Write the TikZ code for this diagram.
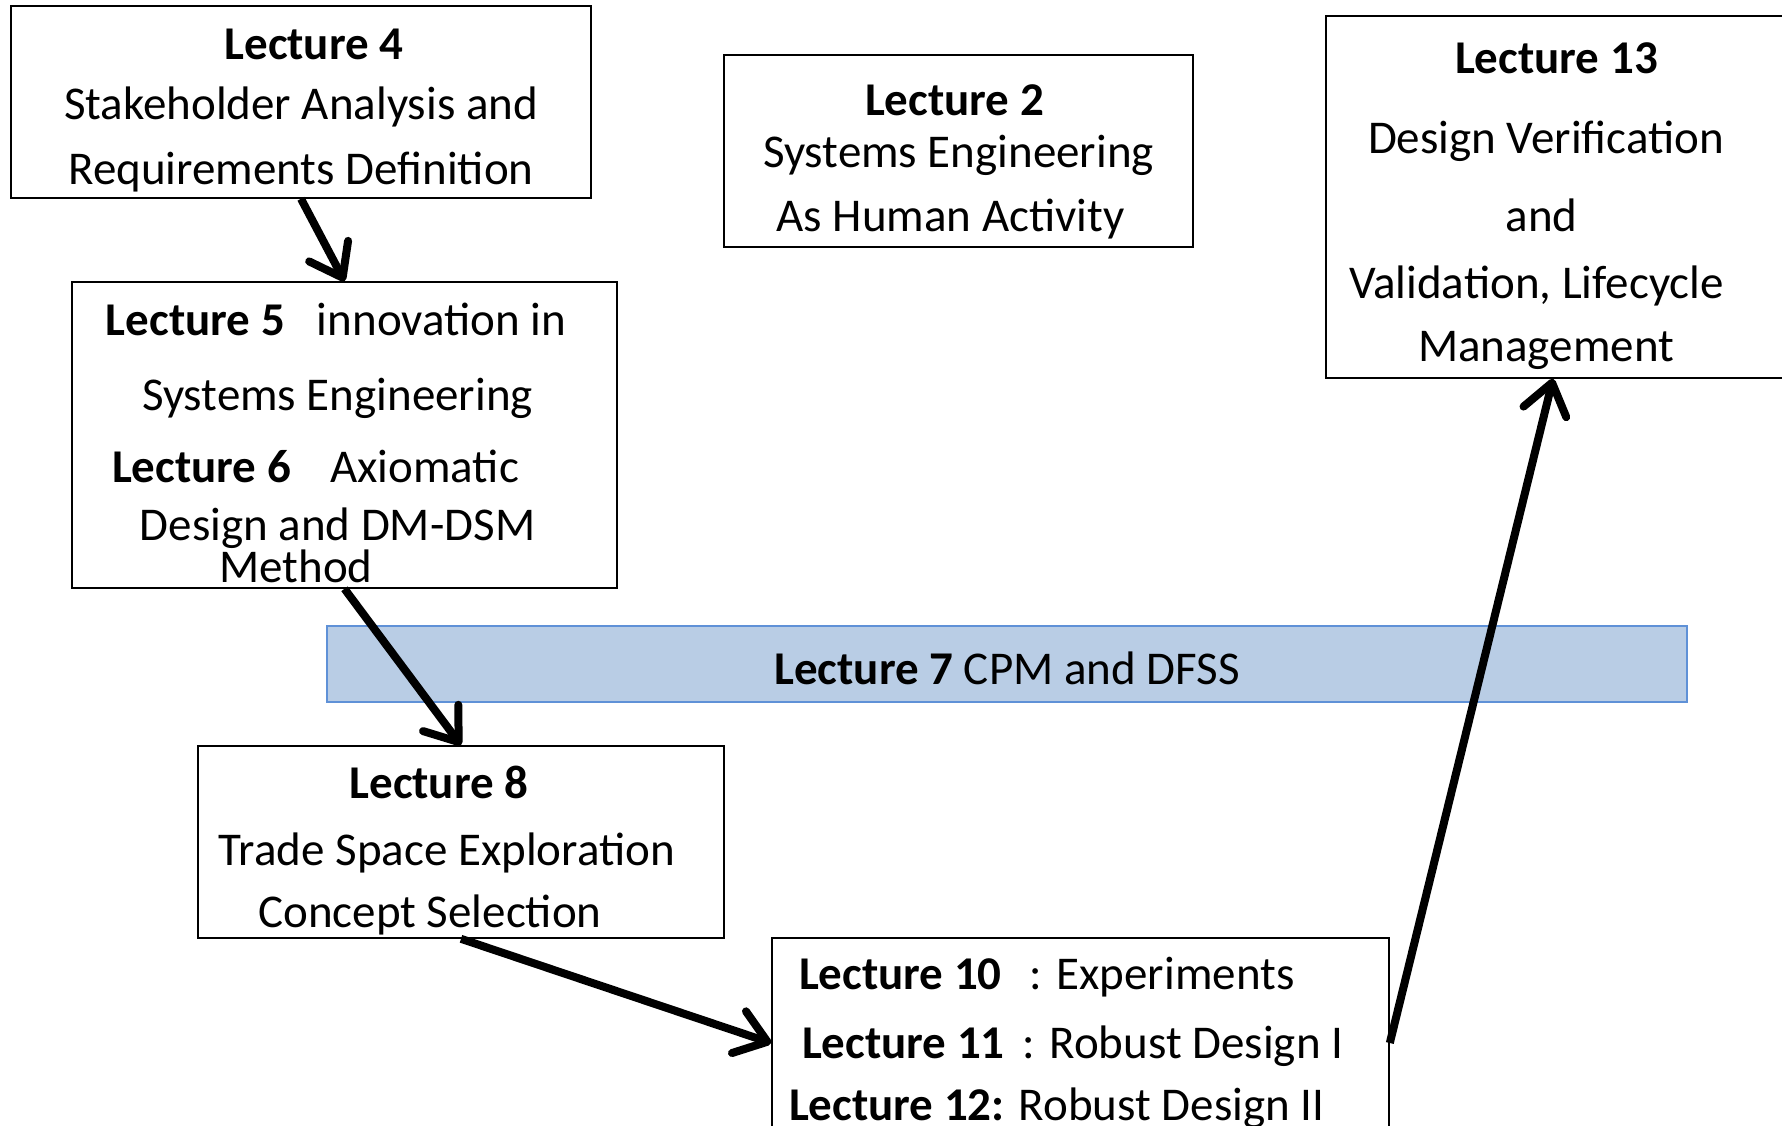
\documentclass[tikz,border=0pt]{standalone}
\usepackage{fontspec}
\setmainfont{Carlito}
\usetikzlibrary{arrows.meta}
\definecolor{bandfill}{RGB}{185,205,229}
\definecolor{bandline}{RGB}{95,145,215}

\begin{document}
\begin{tikzpicture}[
    x=1pt, y=-1pt,  % pixel grid, origin top left
    % Styles
    lecture/.style={draw=black, line width=1.6pt, fill=white, align=center, inner sep=0pt, font=\fontsize{47}{62}\selectfont},
    band/.style={draw=bandline, fill=bandfill, line width=1.6pt, inner sep=0pt, font=\fontsize{47}{62}\selectfont},
    arrow/.style={-{Straight Barb[length=30pt, width=44pt, line width=8pt, round]}, line width=8pt, black},
]
\path[use as bounding box, fill=white] (0,0) rectangle (1782,1125);

% Top row
\node[lecture, minimum width=580, minimum height=192] (lec4) at (301,102) {\rule{0pt}{48pt}\hspace*{26pt}\textbf{Lecture 4}\\[-2pt] Stakeholder Analysis and\\[3pt] Requirements Definition};

\node[lecture, minimum width=469, minimum height=192] (lec2) at (958.5,151) {\rule{0pt}{52pt}\textbf{Lecture 2}\hspace*{8pt}\mbox{}\\[-10pt] Systems Engineering\\[2pt] As Human Activity\hspace*{16pt}\mbox{}};

\node[lecture, minimum width=474, minimum height=362] (lec13) at (1563,197) {\rule{0pt}{50pt}\textbf{Lecture 13}\hspace*{13pt}\mbox{}\\[18pt] Design Verification\hspace*{34pt}\mbox{}\\[16pt] and\hspace*{43pt}\mbox{}\\[5pt] Validation, Lifecycle\hspace*{53pt}\mbox{}\\[1pt] Management\hspace*{34pt}\mbox{}};

% Lectures 5 and 6
\node[lecture, minimum width=545, minimum height=306] (lec56) at (344.5,435) {\rule{0pt}{48pt}\textbf{Lecture 5}\hspace{32pt}innovation in\hspace*{17pt}\mbox{}\\[13pt] Systems Engineering\hspace*{14pt}\mbox{}\\[10pt] \textbf{Lecture 6}\hspace{39pt}Axiomatic\hspace*{58pt}\mbox{}\\[-4pt] Design and DM-DSM\hspace*{14pt}\mbox{}\\[-20pt] Method\hspace*{97pt}\mbox{}};

% Lecture 7 band
\node[band, minimum width=1360, minimum height=76] (lec7) at (1007,664) {\rule{0pt}{42pt}\textbf{Lecture 7} CPM and DFSS};

% Lecture 8
\node[lecture, minimum width=526, minimum height=192] (lec8) at (461,842) {\rule{0pt}{50pt}\textbf{Lecture 8}\hspace*{44pt}\mbox{}\\[5pt] Trade Space Exploration\hspace*{28pt}\mbox{}\\ Concept Selection\hspace*{62pt}\mbox{}};

% Lectures 10 to 12
\node[lecture, minimum width=617, minimum height=210, text width=583pt, align=flush left] (lec10) at (1080.5,1043) {\hspace*{10pt}\textbf{Lecture 10}\hspace{28pt}: Experiments\\[7pt] \hspace*{13pt}\textbf{Lecture 11}\hspace{18pt}: Robust Design I\\ \textbf{Lecture 12:} Robust Design II};

% Flow
\draw[arrow] (lec4.south) -- (lec56.north);
\draw[arrow] (lec56.south) -- (lec8.north);
\draw[arrow] (lec8.south) -- (lec10.west);
\draw[arrow] (lec10.east) -- ([xshift=-10pt]lec13.south);

\end{tikzpicture}
\end{document}
